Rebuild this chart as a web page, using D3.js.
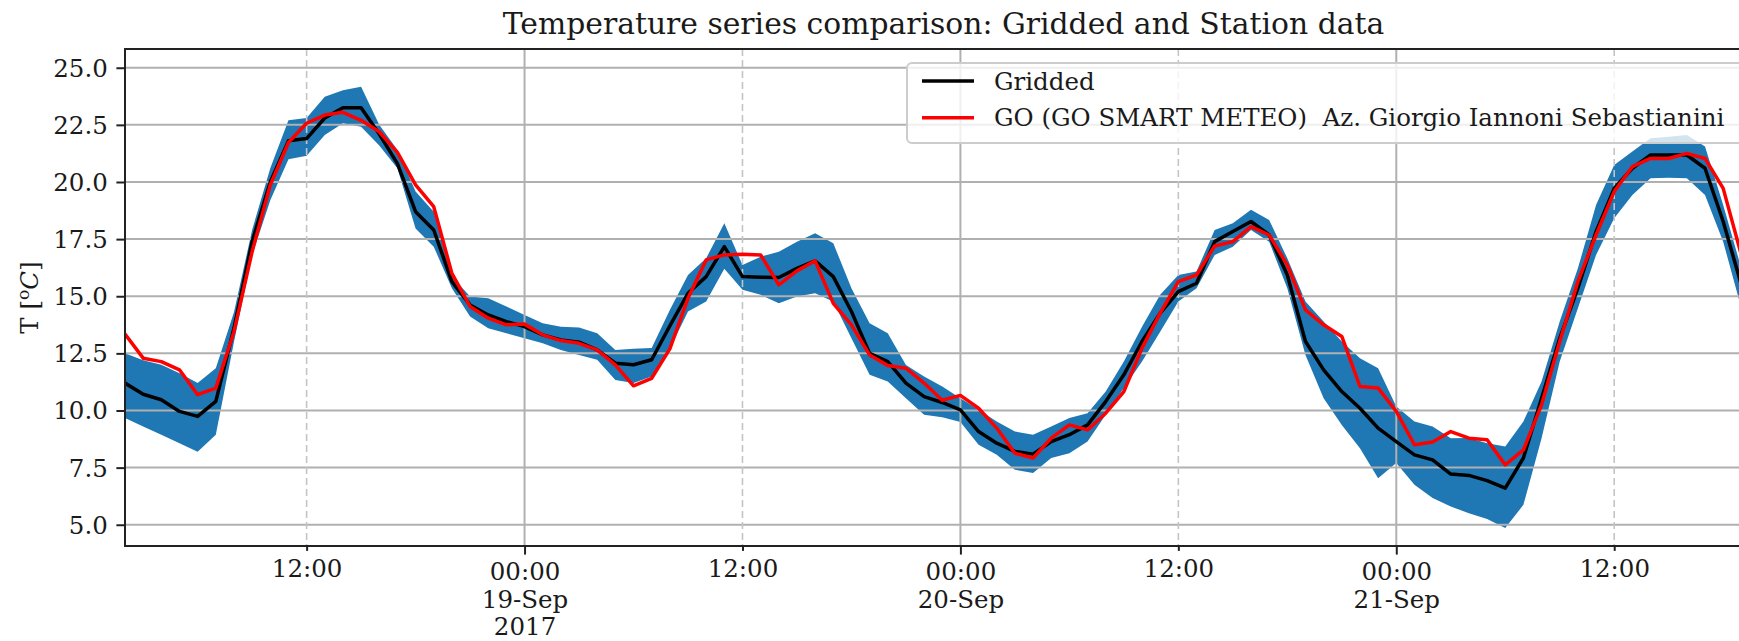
<!DOCTYPE html>
<html>
<head>
<meta charset="utf-8">
<script src="https://cdn.jsdelivr.net/npm/d3@7"></script>
<style>
body { margin: 0; background: #fff; overflow: hidden; }
svg { display: block; }
</style>
</head>
<body>
<div id="chart"></div>
<script>
// Hourly series, first sample at 02:00 UTC 18-Sep-2017
var start_time = "2017-09-18T02:00:00Z";

var gridded = [11.2, 10.71, 10.47, 9.96, 9.74, 10.4, 13.6, 17.4, 20.0, 21.8,
    21.9, 22.8, 23.25, 23.25, 22.1, 20.8, 18.7, 17.9, 15.64, 14.62,
    14.18, 13.89, 13.67, 13.31, 13.09, 12.99, 12.65, 12.07, 12.0, 12.22,
    13.7, 15.13, 15.86, 17.17, 15.86, 15.83, 15.82, 16.22, 16.55, 15.86,
    14.33, 12.5, 12.14, 11.2, 10.61, 10.35, 10.03, 9.08, 8.57, 8.21,
    8.09, 8.64, 8.94, 9.37, 10.39, 11.56, 13.02, 14.26, 15.2, 15.57,
    17.39, 17.83, 18.27, 17.68, 15.93, 13.02, 11.78, 10.83, 10.1, 9.23,
    8.64, 8.06, 7.84, 7.22, 7.16, 6.93, 6.6, 7.92, 10.54, 13.16,
    15.35, 17.83, 19.72, 20.6, 21.18, 21.18, 21.18, 20.6, 18.27, 15.5,
    13.0];

var station = [13.34, 12.29, 12.14, 11.78, 10.69, 10.98, 13.45, 16.95, 19.87, 21.73,
    22.57, 22.93, 23.05, 22.7, 22.2, 21.3, 19.87, 18.92, 16.0, 14.55,
    14.04, 13.75, 13.78, 13.31, 13.06, 12.94, 12.65, 12.0, 11.08, 11.41,
    12.7, 14.91, 16.59, 16.81, 16.84, 16.81, 15.5, 16.11, 16.55, 14.69,
    13.75, 12.43, 11.97, 11.85, 11.2, 10.45, 10.66, 10.1, 9.23, 8.13,
    7.92, 8.79, 9.37, 9.15, 9.88, 10.83, 12.73, 14.26, 15.64, 15.93,
    17.2, 17.39, 18.05, 17.68, 16.37, 14.4, 13.75, 13.24, 11.05, 10.98,
    9.96, 8.5, 8.62, 9.08, 8.79, 8.72, 7.62, 8.28, 10.25, 13.02,
    15.64, 17.68, 19.58, 20.67, 21.03, 21.03, 21.25, 21.03, 19.72, 16.81,
    14.0];

var band_low = [9.67, 9.3, 8.94, 8.57, 8.2, 8.94, 13.0, 16.8, 19.2, 21.0,
    21.15, 22.06, 22.57, 22.42, 21.6, 20.6, 17.97, 17.17, 15.35, 14.11,
    13.6, 13.38, 13.16, 12.94, 12.65, 12.43, 12.22, 11.34, 11.2, 11.49,
    12.7, 14.33, 14.77, 16.2, 15.28, 15.06, 14.69, 14.99, 15.13, 14.77,
    13.16, 11.56, 11.27, 10.54, 9.81, 9.7, 9.5, 8.5, 8.06, 7.41,
    7.26, 7.92, 8.13, 8.64, 9.81, 10.98, 12.14, 13.45, 14.77, 15.35,
    16.81, 17.17, 17.9, 17.39, 15.35, 12.43, 10.54, 9.37, 8.35, 7.04,
    7.7, 6.75, 6.17, 5.8, 5.5, 5.25, 4.86, 5.87, 8.79, 12.14,
    14.48, 16.81, 18.41, 19.43, 20.16, 20.19, 20.16, 19.43, 17.39, 14.48,
    12.0];

var band_high = [12.5, 12.2, 12.0, 11.63, 11.2, 11.85, 14.3, 17.9, 20.6, 22.7,
    22.8, 23.73, 24.02, 24.17, 22.5, 21.4, 19.58, 18.7, 15.86, 14.99,
    14.91, 14.55, 14.18, 13.82, 13.67, 13.63, 13.38, 12.65, 12.7, 12.73,
    14.4, 15.93, 16.66, 18.19, 16.37, 16.73, 16.95, 17.39, 17.76, 17.32,
    15.35, 13.82, 13.38, 11.99, 11.49, 11.05, 10.54, 10.03, 9.52, 9.08,
    8.94, 9.3, 9.67, 9.88, 10.83, 12.14, 13.67, 15.06, 15.93, 16.08,
    17.9, 18.19, 18.78, 18.34, 16.66, 14.77, 13.89, 13.02, 12.29, 11.85,
    10.17, 9.52, 9.3, 8.79, 8.8, 8.57, 8.42, 9.52, 11.27, 13.89,
    16.22, 18.99, 20.74, 21.33, 21.91, 21.98, 22.06, 21.55, 18.99, 16.22,
    14.0];

var series_names = ["Gridded", "GO (GO SMART METEO)  Az. Giorgio Iannoni Sebastianini"];

var y_ticks = [5.0, 7.5, 10.0, 12.5, 15.0, 17.5, 20.0, 22.5, 25.0];
var y_limits = [4.07, 25.82];

var major_ticks = ["2017-09-19T00:00:00Z", "2017-09-20T00:00:00Z", "2017-09-21T00:00:00Z"];
var major_labels = [["00:00", "19-Sep", "2017"], ["00:00", "20-Sep"], ["00:00", "21-Sep"]];
var minor_ticks = ["2017-09-18T12:00:00Z", "2017-09-19T12:00:00Z", "2017-09-20T12:00:00Z", "2017-09-21T12:00:00Z"];
var minor_label = "12:00";

var chart_title = "Temperature series comparison: Gridded and Station data";

function build_chart(select_target) {
    var total_width = 1739;
    var total_height = 641;
    // plot box; right edge sits past the picture edge, as in the original crop
    var bounds = { left: 125, right: 1759.5, top: 49, bottom: 546, axes_right: 1762 };
    var font = "'DejaVu Serif', serif";
    var font_size = 24.5;
    var line_step = 27.5;
    var grid_color = "#b0b0b0";
    var ink = "#1a1a1a";

    var svg_root = d3.select(select_target).append("svg")
        .attr("width", total_width)
        .attr("height", total_height)
        .attr("font-family", font);

    var times = gridded.map(function(d, i) { return d3.utcHour.offset(new Date(start_time), i); });

    var x = d3.scaleUtc()
        .domain([times[0], times[times.length - 1]])
        .range([bounds.left, bounds.right]);

    var y = d3.scaleLinear()
        .domain(y_limits)
        .range([bounds.bottom, bounds.top]);

    svg_root.append("defs").append("clipPath")
        .attr("id", "plot_clip")
        .append("rect")
            .attr("x", bounds.left)
            .attr("y", bounds.top)
            .attr("width", bounds.axes_right - bounds.left)
            .attr("height", bounds.bottom - bounds.top);

    var plot_group = svg_root.append("g").attr("clip-path", "url(#plot_clip)");

    // Spread of gridded values
    var band = d3.area()
        .x(function(d, i) { return x(times[i]); })
        .y0(function(d, i) { return y(band_low[i]); })
        .y1(function(d, i) { return y(band_high[i]); });

    plot_group.append("path")
        .datum(gridded)
        .attr("d", band)
        .attr("fill", "#1f77b4");

    // Grid sits above the band but under the lines
    plot_group.selectAll(".hgrid")
        .data(y_ticks)
        .enter().append("line")
            .attr("x1", bounds.left)
            .attr("x2", bounds.axes_right)
            .attr("y1", function(d) { return y(d); })
            .attr("y2", function(d) { return y(d); })
            .attr("stroke", grid_color)
            .attr("stroke-width", 2);

    plot_group.selectAll(".vgrid_major")
        .data(major_ticks)
        .enter().append("line")
            .attr("x1", function(d) { return x(new Date(d)); })
            .attr("x2", function(d) { return x(new Date(d)); })
            .attr("y1", bounds.top)
            .attr("y2", bounds.bottom)
            .attr("stroke", grid_color)
            .attr("stroke-width", 2);

    plot_group.selectAll(".vgrid_minor")
        .data(minor_ticks)
        .enter().append("line")
            .attr("x1", function(d) { return x(new Date(d)); })
            .attr("x2", function(d) { return x(new Date(d)); })
            .attr("y1", bounds.top)
            .attr("y2", bounds.bottom)
            .attr("stroke", "#c4c4c4")
            .attr("stroke-width", 1.6)
            .attr("stroke-dasharray", "7,4");

    var line = d3.line()
        .x(function(d, i) { return x(times[i]); })
        .y(function(d) { return y(d); });

    var line_colors = ["#000000", "#ff0000"];
    [gridded, station].forEach(function(values, k) {
        plot_group.append("path")
            .datum(values)
            .attr("d", line)
            .attr("fill", "none")
            .attr("stroke", line_colors[k])
            .attr("stroke-width", 3.5)
            .attr("stroke-linejoin", "round");
    });

    // Spines (right one falls outside the picture)
    svg_root.append("path")
        .attr("d", "M" + bounds.axes_right + "," + bounds.top + "H" + bounds.left +
            "V" + bounds.bottom + "H" + bounds.axes_right)
        .attr("stroke", "#222")
        .attr("stroke-width", 2)
        .attr("fill", "none");

    // Y axis
    var y_axis = svg_root.append("g")
        .attr("transform", "translate(" + bounds.left + ",0)")
        .call(d3.axisLeft(y).tickValues(y_ticks).tickFormat(d3.format(".1f")).tickSize(8.6).tickPadding(8.6))
        .attr("font-family", font)
        .attr("font-size", font_size);
    y_axis.select(".domain").remove();
    y_axis.selectAll("line").attr("stroke", "#222").attr("stroke-width", 2);
    y_axis.selectAll("text")
        .attr("fill", ink)
        .attr("font-size", font_size)
        .attr("dy", 8.5);

    // X axis, minor ticks at noon
    var x_minor = svg_root.append("g")
        .attr("transform", "translate(0," + bounds.bottom + ")")
        .call(d3.axisBottom(x).tickValues(minor_ticks.map(function(d) { return new Date(d); }))
            .tickFormat(function() { return minor_label; }).tickSize(4.9).tickPadding(8.6))
        .attr("font-family", font)
        .attr("font-size", font_size);
    x_minor.select(".domain").remove();
    x_minor.selectAll("line").attr("stroke", "#222").attr("stroke-width", 2);
    x_minor.selectAll("text")
        .attr("fill", ink)
        .attr("font-size", font_size)
        .attr("y", 31)
        .attr("dy", 0);

    // X axis, major ticks at midnight with stacked labels
    var x_major = svg_root.append("g")
        .attr("transform", "translate(0," + bounds.bottom + ")")
        .call(d3.axisBottom(x).tickValues(major_ticks.map(function(d) { return new Date(d); }))
            .tickSize(8.6).tickPadding(8.6))
        .attr("font-family", font)
        .attr("font-size", font_size);
    x_major.select(".domain").remove();
    x_major.selectAll("line").attr("stroke", "#222").attr("stroke-width", 2);
    x_major.selectAll("text")
        .attr("fill", ink)
        .attr("font-size", font_size)
        .attr("y", 0)
        .attr("dy", 0)
        .text(null)
        .each(function(d, i) {
            var t = d3.select(this);
            major_labels[i].forEach(function(s, j) {
                t.append("tspan")
                    .attr("x", 0)
                    .attr("y", 34 + j * line_step)
                    .text(s);
            });
        });

    // Y label
    var y_label = svg_root.append("text")
        .attr("transform", "translate(38," + ((bounds.top + bounds.bottom) / 2) + ") rotate(-90)")
        .attr("text-anchor", "middle")
        .attr("font-size", font_size)
        .attr("fill", ink);
    y_label.append("tspan").text("T [");
    y_label.append("tspan").attr("font-size", font_size * 0.7).attr("dy", -9).text("o");
    y_label.append("tspan").attr("dy", 9).attr("font-style", "italic").text("C");
    y_label.append("tspan").text("]");

    // Title
    svg_root.append("text")
        .attr("x", (bounds.left + bounds.axes_right) / 2)
        .attr("y", 34)
        .attr("text-anchor", "middle")
        .attr("font-size", 29.8)
        .attr("fill", ink)
        .text(chart_title);

    // Legend (upper right, cut by the picture edge)
    var legend = svg_root.append("g").attr("transform", "translate(907,63)");
    legend.append("rect")
        .attr("width", 843)
        .attr("height", 80)
        .attr("rx", 5)
        .attr("fill", "#fff")
        .attr("fill-opacity", 0.8)
        .attr("stroke", "#cccccc")
        .attr("stroke-width", 2);

    series_names.forEach(function(name, k) {
        var row_y = 18 + k * 36.7;
        legend.append("line")
            .attr("x1", 15)
            .attr("x2", 67)
            .attr("y1", row_y)
            .attr("y2", row_y)
            .attr("stroke", line_colors[k])
            .attr("stroke-width", 3.5);
        legend.append("text")
            .attr("x", 87)
            .attr("y", row_y + 8.6)
            .attr("font-size", font_size)
            .attr("fill", ink)
            .style("white-space", "pre")
            .text(name);
    });
}

build_chart("#chart");
</script>
</body>
</html>
